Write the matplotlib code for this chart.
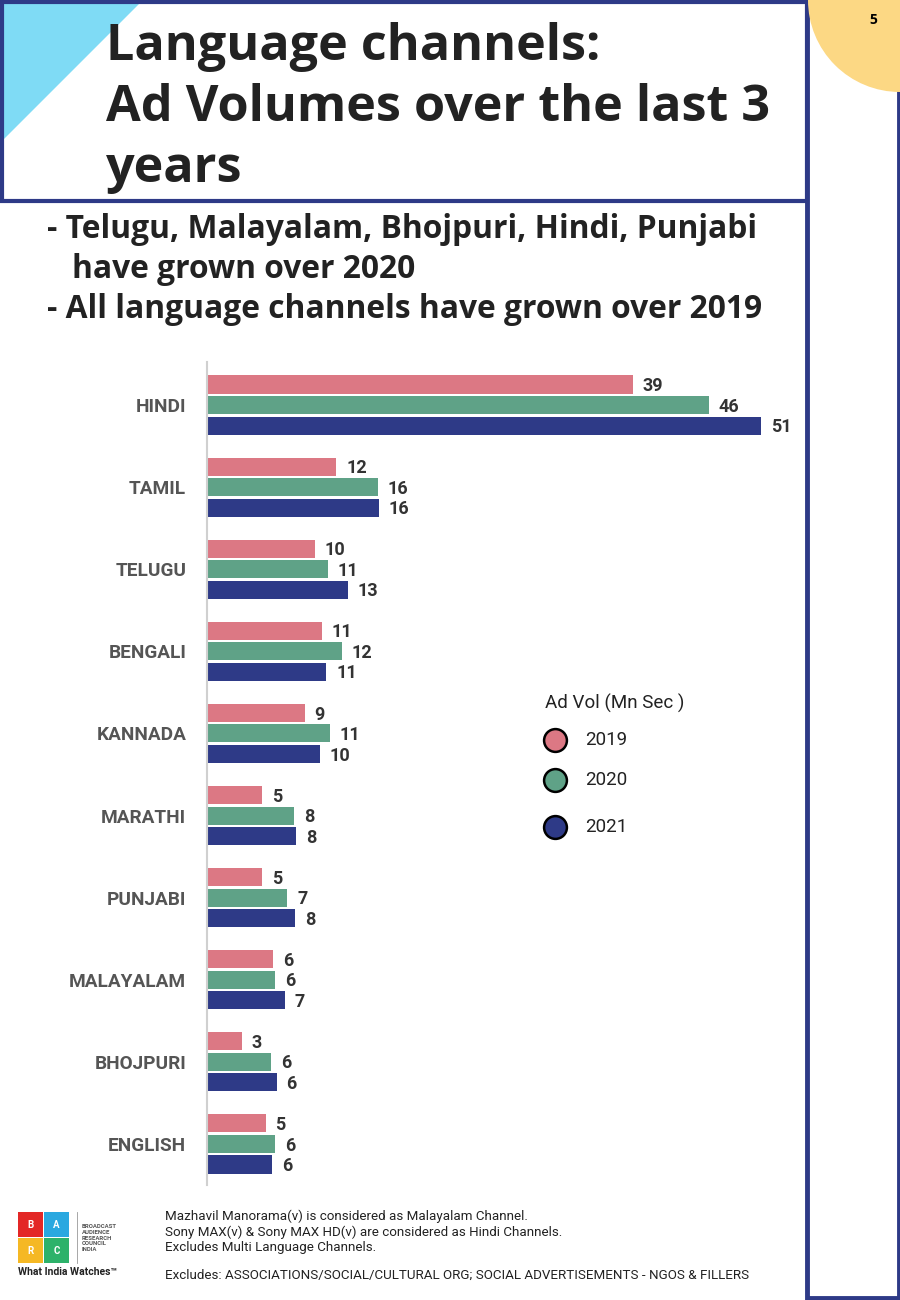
import numpy as np
import matplotlib.pyplot as plt
from matplotlib.patches import Polygon, Rectangle, Wedge

# data
channels = ['HINDI', 'TAMIL', 'TELUGU', 'BENGALI', 'KANNADA', 'MARATHI',
            'PUNJABI', 'MALAYALAM', 'BHOJPURI', 'ENGLISH']
vol_2019 = [39.2, 11.9, 9.9, 10.6, 9.0, 5.1, 5.1, 6.1, 3.2, 5.4]
vol_2020 = [46.2, 15.7, 11.1, 12.4, 11.3, 8.0, 7.4, 6.3, 5.9, 6.3]
vol_2021 = [51.0, 15.8, 13.0, 11.0, 10.4, 8.2, 8.1, 7.2, 6.4, 6.0]
years = ['2019', '2020', '2021']

col = {'2019': '#DC7884', '2020': '#5FA287', '2021': '#2E3A87'}
navy = '#2E3A87'
W, H = 900, 1300

fig = plt.figure(figsize=(9, 13), dpi=100)

# background / decoration layer in pixel coords
bg = fig.add_axes([0, 0, 1, 1])
bg.set_xlim(0, W)
bg.set_ylim(H, 0)
bg.axis('off')

bg.add_patch(Polygon([[0, 0], [143, 0], [0, 143]], closed=True, color='#7FDBF5', lw=0))
bg.add_patch(Rectangle((1.5, 1.5), 805, 199.5, fill=False, ec=navy, lw=3, zorder=2))
bg.add_patch(Rectangle((806.5, 1.5), 92, 1296.5, fill=False, ec=navy, lw=3.5, zorder=2))
bg.add_patch(Wedge((900, 0), 92, 90, 270, color='#FCD884', lw=0, zorder=3))
bg.text(873, 20, '5', fontsize=10, fontweight='bold', ha='center', va='center',
        family='Open Sans', zorder=4)

tfont = dict(family='Open Sans', fontweight='bold', color='#222222', fontsize=36.3)
bg.text(106, 47, 'Language channels:', va='center', ha='left', **tfont)
bg.text(106, 108, 'Ad Volumes over the last 3', va='center', ha='left', **tfont)
bg.text(106, 169, 'years', va='center', ha='left', **tfont)

sfont = dict(family='Open Sans', fontweight='bold', color='#222222', fontsize=22.9)
bg.text(47, 230, '- Telugu, Malayalam, Bhojpuri, Hindi, Punjabi', va='center', **sfont)
bg.text(72, 269, 'have grown over 2020', va='center', **sfont)
bg.text(47, 309, '- All language channels have grown over 2019', va='center', **sfont)

# legend (drawn by hand like the original)
lfont = dict(fontsize=13.5, color='#222222', va='center', family='Roboto')
bg.text(545, 703, 'Ad Vol (Mn Sec )', **lfont)
for yy, yr in zip([740, 780, 827], years):
    bg.scatter([555], [yy], s=270, color=col[yr], edgecolors='black', linewidths=1.8, zorder=3)
    bg.text(585, yy, yr, **lfont)

# BARC logo
logo = [('B', '#E32726', 18, 1212), ('A', '#2AA8E0', 44, 1212),
        ('R', '#F5B824', 18, 1238), ('C', '#2DB26A', 44, 1238)]
for ch, c, x0, y0 in logo:
    bg.add_patch(Rectangle((x0, y0), 25, 25, color=c, lw=0))
    bg.text(x0 + 12.5, y0 + 12.5, ch, color='white', fontsize=7, fontweight='bold',
            ha='center', va='center', family='Roboto')
bg.plot([77, 77], [1212, 1263], color='#999999', lw=0.6)
bg.text(82, 1238, 'BROADCAST\nAUDIENCE\nRESEARCH\nCOUNCIL\nINDIA', fontsize=4.3,
        fontweight='bold', color='#555555', va='center', linespacing=1.2, family='Roboto')
bg.text(18, 1272, 'What India Watches\u2122', fontsize=7.5, fontweight='bold', color='#222222',
        va='center', family='Roboto')

nfont = dict(fontsize=9.6, color='#222222', va='center', family='Roboto')
bg.text(165, 1216, 'Mazhavil Manorama(v) is considered as Malayalam Channel.', **nfont)
bg.text(165, 1232, 'Sony MAX(v) & Sony MAX HD(v) are considered as Hindi Channels.', **nfont)
bg.text(165, 1248, 'Excludes Multi Language Channels.', **nfont)
bg.text(165, 1275, 'Excludes: ASSOCIATIONS/SOCIAL/CULTURAL ORG; SOCIAL ADVERTISEMENTS - NGOS & FILLERS', **nfont)

# bar chart
ax = fig.add_axes([207 / W, 1 - 1185 / H, (858.6 - 207) / W, (1185 - 362) / H])
ax.patch.set_alpha(0)
y = np.arange(len(channels))
off = 0.25
hgt = 0.22
for k, (yr, vals) in enumerate(zip(years, [vol_2019, vol_2020, vol_2021])):
    pos = y + (k - 1) * off
    ax.barh(pos, vals, height=hgt, color=col[yr])
    for p, v in zip(pos, vals):
        ax.text(v + 0.9, p + 0.02, f'{v:.0f}', va='center', ha='left', fontsize=13,
                fontweight='bold', color='#333333', family='Roboto')

ax.set_xlim(0, 60)
ax.set_ylim(9.5, -0.524)
ax.set_yticks(y)
ax.set_yticklabels(channels, fontsize=13.7, fontweight='bold', color='#555555',
                   family='Roboto')
ax.tick_params(axis='y', length=0, pad=15)
ax.set_xticks([])
for s in ['top', 'right', 'bottom']:
    ax.spines[s].set_visible(False)
ax.spines['left'].set_color('#D0D0D0')
ax.spines['left'].set_linewidth(1.5)

fig.savefig('out.png', dpi=100)
